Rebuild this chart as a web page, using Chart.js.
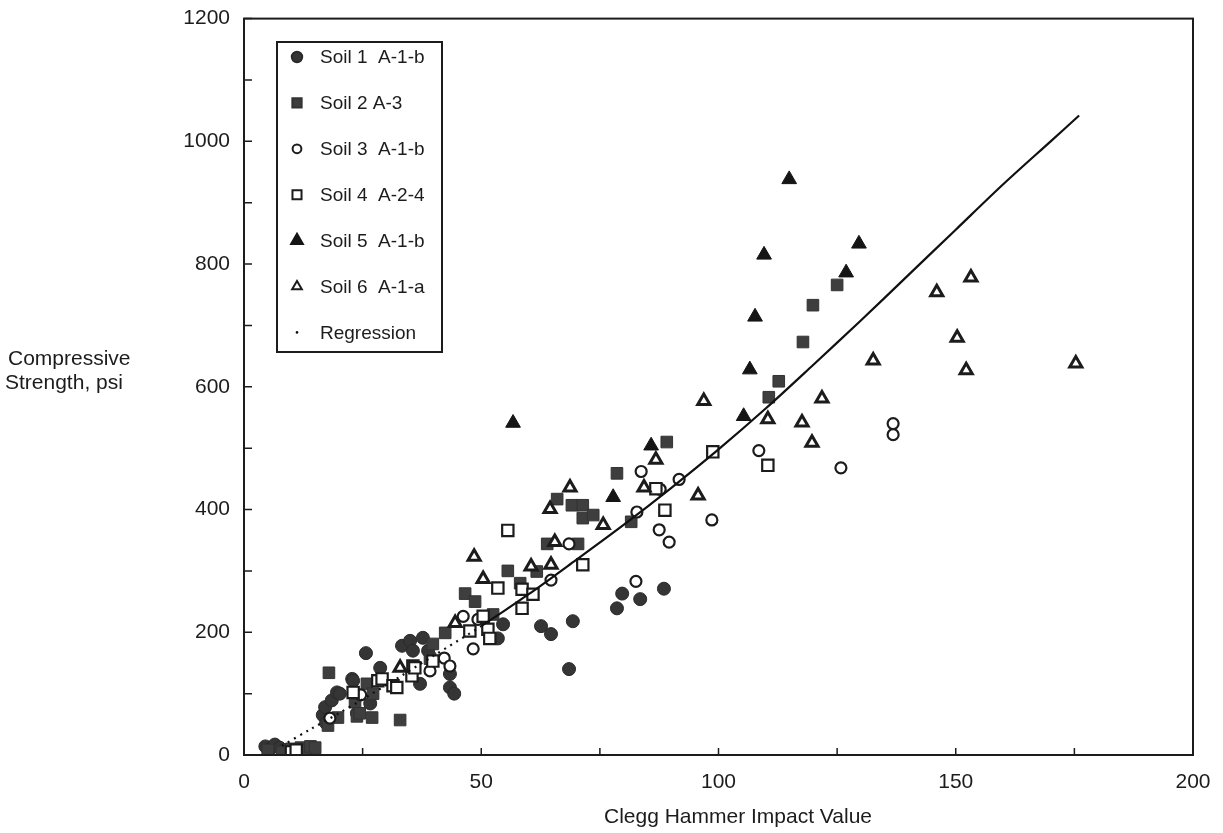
<!DOCTYPE html>
<html>
<head>
<meta charset="utf-8">
<script src="https://cdn.jsdelivr.net/npm/chart.js@4.4.0/dist/chart.umd.min.js"></script>
<style>
  body { margin: 0; background: #fff; }
  #wrap { width: 1223px; height: 833px; position: relative; }
</style>
</head>
<body>
<div id="wrap"><canvas id="scatter-chart"></canvas></div>
<script>
// values
var soil1X = [4.5,5.5,6.5,7.5,8.5,16.6,17.1,17.3,18.5,19.6,20.2,22.8,23,23.8,25.7,26.6,28.7,33.3,35,35.6,37.1,37.7,38.8,43.4,43.4,44.3,53.5,54.6,62.6,64.7,68.5,69.3,78.6,79.7,83.5,88.5];
var soil1Y = [14,10,17,12,8,65,78,52,89,102,100,124,121,68,166,84,142,178,186,170,116,191,170,132,110,100,190,213,210,197,140,218,239,263,254,271];

var soil2X = [5,8,10,12,13,14,15,17.7,17.9,19.8,23.4,23.8,24.4,25.9,27,27.2,32.9,39.2,39.8,42.4,46.6,48.7,52.5,55.6,58.2,61.7,63.9,66,69.1,70.4,71.4,71.4,73.6,78.6,81.6,89.1,110.6,112.7,117.8,119.9,125];
var soil2Y = [8,5,10,12,8,14,12,48,134,61,86,63,68,116,61,100,57,157,181,199,263,250,229,300,280,299,344,417,407,344,407,386,391,459,380,510,583,609,673,733,766];

var soil3X = [18.1,24.6,39.2,42.2,43.4,46.2,48.3,49.3,64.7,68.5,82.6,82.8,83.7,87.5,87.7,89.6,91.7,98.6,108.5,125.8,136.8,136.8];
var soil3Y = [60,98,137,158,145,226,173,221,285,344,283,396,462,367,433,347,449,383,496,468,540,522];

var soil4X = [10,11,23,28.2,29.1,31.4,32.2,35.4,35.6,36,39.8,47.6,50.4,51.4,51.8,53.5,55.6,58.6,58.6,60.9,71.4,86.8,88.7,98.8,110.4];
var soil4Y = [5,8,102,121,124,113,110,129,145,142,153,202,226,205,190,272,366,270,239,262,310,434,399,494,472];

var soil5X = [56.7,77.8,85.8,105.3,106.6,107.7,109.6,114.9,126.9,129.6];
var soil5Y = [541,420,504,552,628,714,815,938,786,833];

var soil6X = [32.9,44.5,48.5,50.4,60.5,64.7,65.5,64.5,68.7,75.7,84.3,86.8,95.7,96.9,110.4,117.6,119.7,121.8,132.6,146,150.3,152.2,153.2,175.3];
var soil6Y = [142,215,323,287,307,310,347,401,436,375,436,481,423,577,547,542,509,581,643,754,680,627,778,638];

var regX = [8,14,20,30,40,50,60,70,80,90,100,110,120,130,140,150,160,170,176];
var regY = [15,42,68,114,162,210,262,318,375,435,498,565,636,708,782,856,930,1000,1042];

var xTicks = [0,50,100,150,200];
var yTicks = [0,200,400,600,800,1000,1200];

function pts(xs, ys) {
  return xs.map(function (x, i) { return { x: x, y: ys[i] }; });
}

var ink = '#1c1c1c';
var fontName = '"Liberation Sans", Arial, Helvetica, sans-serif';

var datasets = [
  { label: 'Soil 1  A-1-b', data: pts(soil1X, soil1Y), pointStyle: 'circle', pointRadius: 6.5,
    backgroundColor: '#353535', borderColor: '#2a2a2a', borderWidth: 1 },
  { label: 'Soil 2 A-3', data: pts(soil2X, soil2Y), pointStyle: 'rect', pointRadius: 8.2,
    backgroundColor: '#3e3e3e', borderColor: '#333', borderWidth: 1 },
  { label: 'Soil 3  A-1-b', data: pts(soil3X, soil3Y), pointStyle: 'circle', pointRadius: 5.5,
    backgroundColor: '#fff', borderColor: ink, borderWidth: 2.2 },
  { label: 'Soil 4  A-2-4', data: pts(soil4X, soil4Y), pointStyle: 'rect', pointRadius: 8,
    backgroundColor: '#fff', borderColor: ink, borderWidth: 2.2 },
  { label: 'Soil 5  A-1-b', data: pts(soil5X, soil5Y), pointStyle: 'triangle', pointRadius: 8.5,
    backgroundColor: '#151515', borderColor: '#151515', borderWidth: 1 },
  { label: 'Soil 6  A-1-a', data: pts(soil6X, soil6Y), pointStyle: 'triangle', pointRadius: 7,
    backgroundColor: '#fff', borderColor: ink, borderWidth: 3 },
  { label: 'Regression', data: pts(regX, regY), showLine: true, pointRadius: 0, pointStyle: 'circle',
    borderColor: '#111', backgroundColor: '#111', borderWidth: 2.2, tension: 0.3,
    segment: { borderDash: function (c) { return c.p0.parsed.x < 50 ? [2, 5] : undefined; } } }
];
// regression drawn on top
datasets.forEach(function (d, i) { d.order = d.label === 'Regression' ? 0 : 10 - i; });

var extras = {
  id: 'extras',
  afterDraw: function (chart) {
    var ctx = chart.ctx, a = chart.chartArea;
    var xs = chart.scales.x, ys = chart.scales.y;
    ctx.save();
    // frame
    ctx.strokeStyle = ink;
    ctx.lineWidth = 2;
    ctx.strokeRect(a.left, a.top, a.right - a.left, a.bottom - a.top);
    // inward tick marks
    ctx.lineWidth = 1.5;
    ctx.beginPath();
    xs.ticks.forEach(function (t) {
      var p = xs.getPixelForValue(t.value);
      ctx.moveTo(p, a.bottom); ctx.lineTo(p, a.bottom - 7);
    });
    ys.ticks.forEach(function (t) {
      var p = ys.getPixelForValue(t.value);
      ctx.moveTo(a.left, p); ctx.lineTo(a.left + 8, p);
    });
    ctx.stroke();

    // axis titles
    ctx.fillStyle = ink;
    ctx.font = '21px ' + fontName;
    ctx.textBaseline = 'alphabetic';
    ctx.textAlign = 'left';
    ctx.fillText('Compressive', 8, 365);
    ctx.fillText('Strength, psi', 5, 389);
    ctx.textAlign = 'center';
    ctx.fillText('Clegg Hammer Impact Value', 738, 823);

    // legend box
    var bx = 277, by = 42, bw = 165, bh = 310;
    ctx.fillStyle = '#fff';
    ctx.fillRect(bx, by, bw, bh);
    ctx.lineWidth = 2;
    ctx.strokeRect(bx, by, bw, bh);
    ctx.font = '19px ' + fontName;
    ctx.textAlign = 'left';
    ctx.textBaseline = 'middle';
    chart.data.datasets.forEach(function (d, i) {
      var cy = 57 + i * 45.9;
      ctx.fillStyle = d.backgroundColor;
      ctx.strokeStyle = d.borderColor;
      if (d.label === 'Regression') {
        ctx.beginPath(); ctx.arc(297, cy, 1.3, 0, Math.PI * 2); ctx.fill();
      } else {
        Chart.helpers.drawPoint(ctx, {
          pointStyle: d.pointStyle, radius: d.pointRadius * 0.8,
          borderWidth: d.borderWidth, rotation: 0
        }, 297, cy);
      }
      ctx.fillStyle = ink;
      ctx.fillText(d.label, 320, cy + 1);
    });
    ctx.restore();
  }
};

new Chart(document.getElementById('scatter-chart'), {
  type: 'scatter',
  data: { datasets: datasets },
  options: {
    responsive: true,
    maintainAspectRatio: false,
    animation: false,
    layout: { padding: { top: 12, right: 30, left: 0, bottom: 0 } },
    plugins: {
      legend: { display: false },
      tooltip: { enabled: false }
    },
    scales: {
      x: {
        type: 'linear', min: 0, max: 200,
        grid: { display: false },
        border: { display: false },
        ticks: {
          stepSize: 25, autoSkip: false, maxRotation: 0, padding: 7,
          color: ink, font: { size: 21, family: fontName },
          callback: function (v) { return xTicks.indexOf(v) >= 0 ? v : ''; }
        },
        afterFit: function (s) { s.height = 78; }
      },
      y: {
        type: 'linear', min: 0, max: 1200,
        grid: { display: false },
        border: { display: false },
        ticks: {
          stepSize: 100, autoSkip: false, padding: 6,
          color: ink, font: { size: 21, family: fontName },
          callback: function (v) { return yTicks.indexOf(v) >= 0 ? v : ''; }
        },
        afterFit: function (s) { s.width = 244; }
      }
    }
  },
  plugins: [extras]
});
</script>
</body>
</html>
